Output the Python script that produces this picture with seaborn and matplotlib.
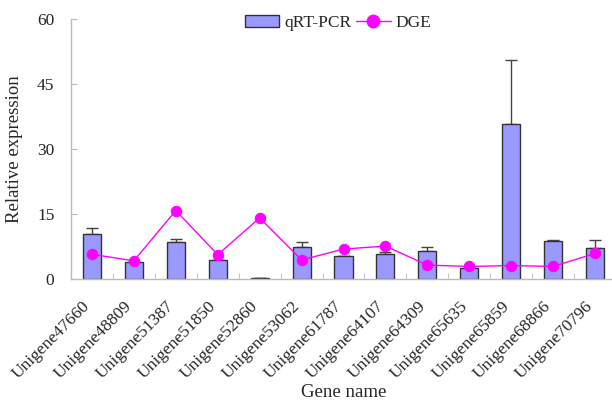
import matplotlib
matplotlib.use("Agg")
import matplotlib.pyplot as plt
import matplotlib.transforms as mtransforms
import seaborn as sns
import numpy as np
from matplotlib.patches import Patch
from matplotlib.lines import Line2D

genes = ["Unigene47660", "Unigene48809", "Unigene51387", "Unigene51850", "Unigene52860",
         "Unigene53062", "Unigene61787", "Unigene64107", "Unigene64309", "Unigene65635",
         "Unigene65859", "Unigene68866", "Unigene70796"]
qpcr = [10.5, 4.0, 8.5, 4.5, 0.3, 7.3, 5.2, 5.8, 6.5, 2.6, 35.7, 8.8, 7.1]
qpcr_err = [1.3, 0.0, 0.7, 0.0, 0.0, 1.3, 0.0, 0.4, 1.0, 0.0, 14.8, 0.2, 2.0]
dge = [5.7, 4.2, 15.8, 5.6, 14.1, 4.4, 6.9, 7.6, 3.2, 2.9, 3.1, 2.9, 5.9]
yticks = [0, 15, 30, 45, 60]

sns.set_style("ticks")
plt.rcParams['font.family'] = ['Liberation Serif', 'DejaVu Serif']
plt.rcParams['font.size'] = 12.5

fig = plt.figure(figsize=(6.12, 4.04), dpi=100)
ax = fig.add_axes([71/612, 125/404, 545/612, 260/404])

sns.barplot(x=genes, y=qpcr, color="#9999FF", edgecolor="#333333", linewidth=1.0,
            width=0.43, saturation=1, ax=ax, errorbar=None, zorder=2)
pos = np.arange(len(genes))
ax.errorbar(pos, qpcr, yerr=[np.zeros(len(genes)), qpcr_err], fmt="none",
            ecolor="#444444", elinewidth=1.0, capsize=4, capthick=1.0, zorder=1)
sns.pointplot(x=genes, y=dge, color="#FF00FF", markers="o", markersize=7.5,
              linewidth=1.0, ax=ax, errorbar=None, zorder=3)

ax.set_ylim(0, 60)
ax.set_yticks(yticks)
ax.set_xlim(-0.5, len(genes) - 0.5)
ax.set_xticks(pos)
ax.set_xticklabels(genes, rotation=45, ha="right", rotation_mode="anchor")
ax.tick_params(axis="x", length=0, pad=14)
offset = mtransforms.ScaledTranslation(-10 / 100, 0, fig.dpi_scale_trans)
for lbl in ax.get_xticklabels():
    lbl.set_transform(lbl.get_transform() + offset)
ax.set_xticks(np.arange(len(genes) - 1) + 0.5, minor=True)
ax.tick_params(axis="x", which="minor", direction="in", length=4, color="#bbbbbb")
ax.tick_params(axis="y", direction="in", length=4, color="#bbbbbb", pad=12)
for s in ["top", "right"]:
    ax.spines[s].set_visible(False)
for s in ["left", "bottom"]:
    ax.spines[s].set_color("#bbbbbb")
    ax.spines[s].set_linewidth(1.0)

ax.set_xlabel("Gene name", fontsize=13.5, labelpad=1)
ax.set_ylabel("Relative expression", fontsize=13.5, labelpad=10)

handles = [Patch(facecolor="#9999FF", edgecolor="#333333", linewidth=1.0),
           Line2D([0], [0], color="#FF00FF", marker="o", markersize=9, linewidth=1.0)]
ax.legend(handles, ["qRT-PCR", "DGE"], ncol=2, loc="upper center", bbox_to_anchor=(0.49, 1.075),
          frameon=False, handlelength=2.0, handleheight=0.6, columnspacing=0.25, handletextpad=0.3,
          fontsize=12.5)

fig.savefig("out.png", dpi=100)
